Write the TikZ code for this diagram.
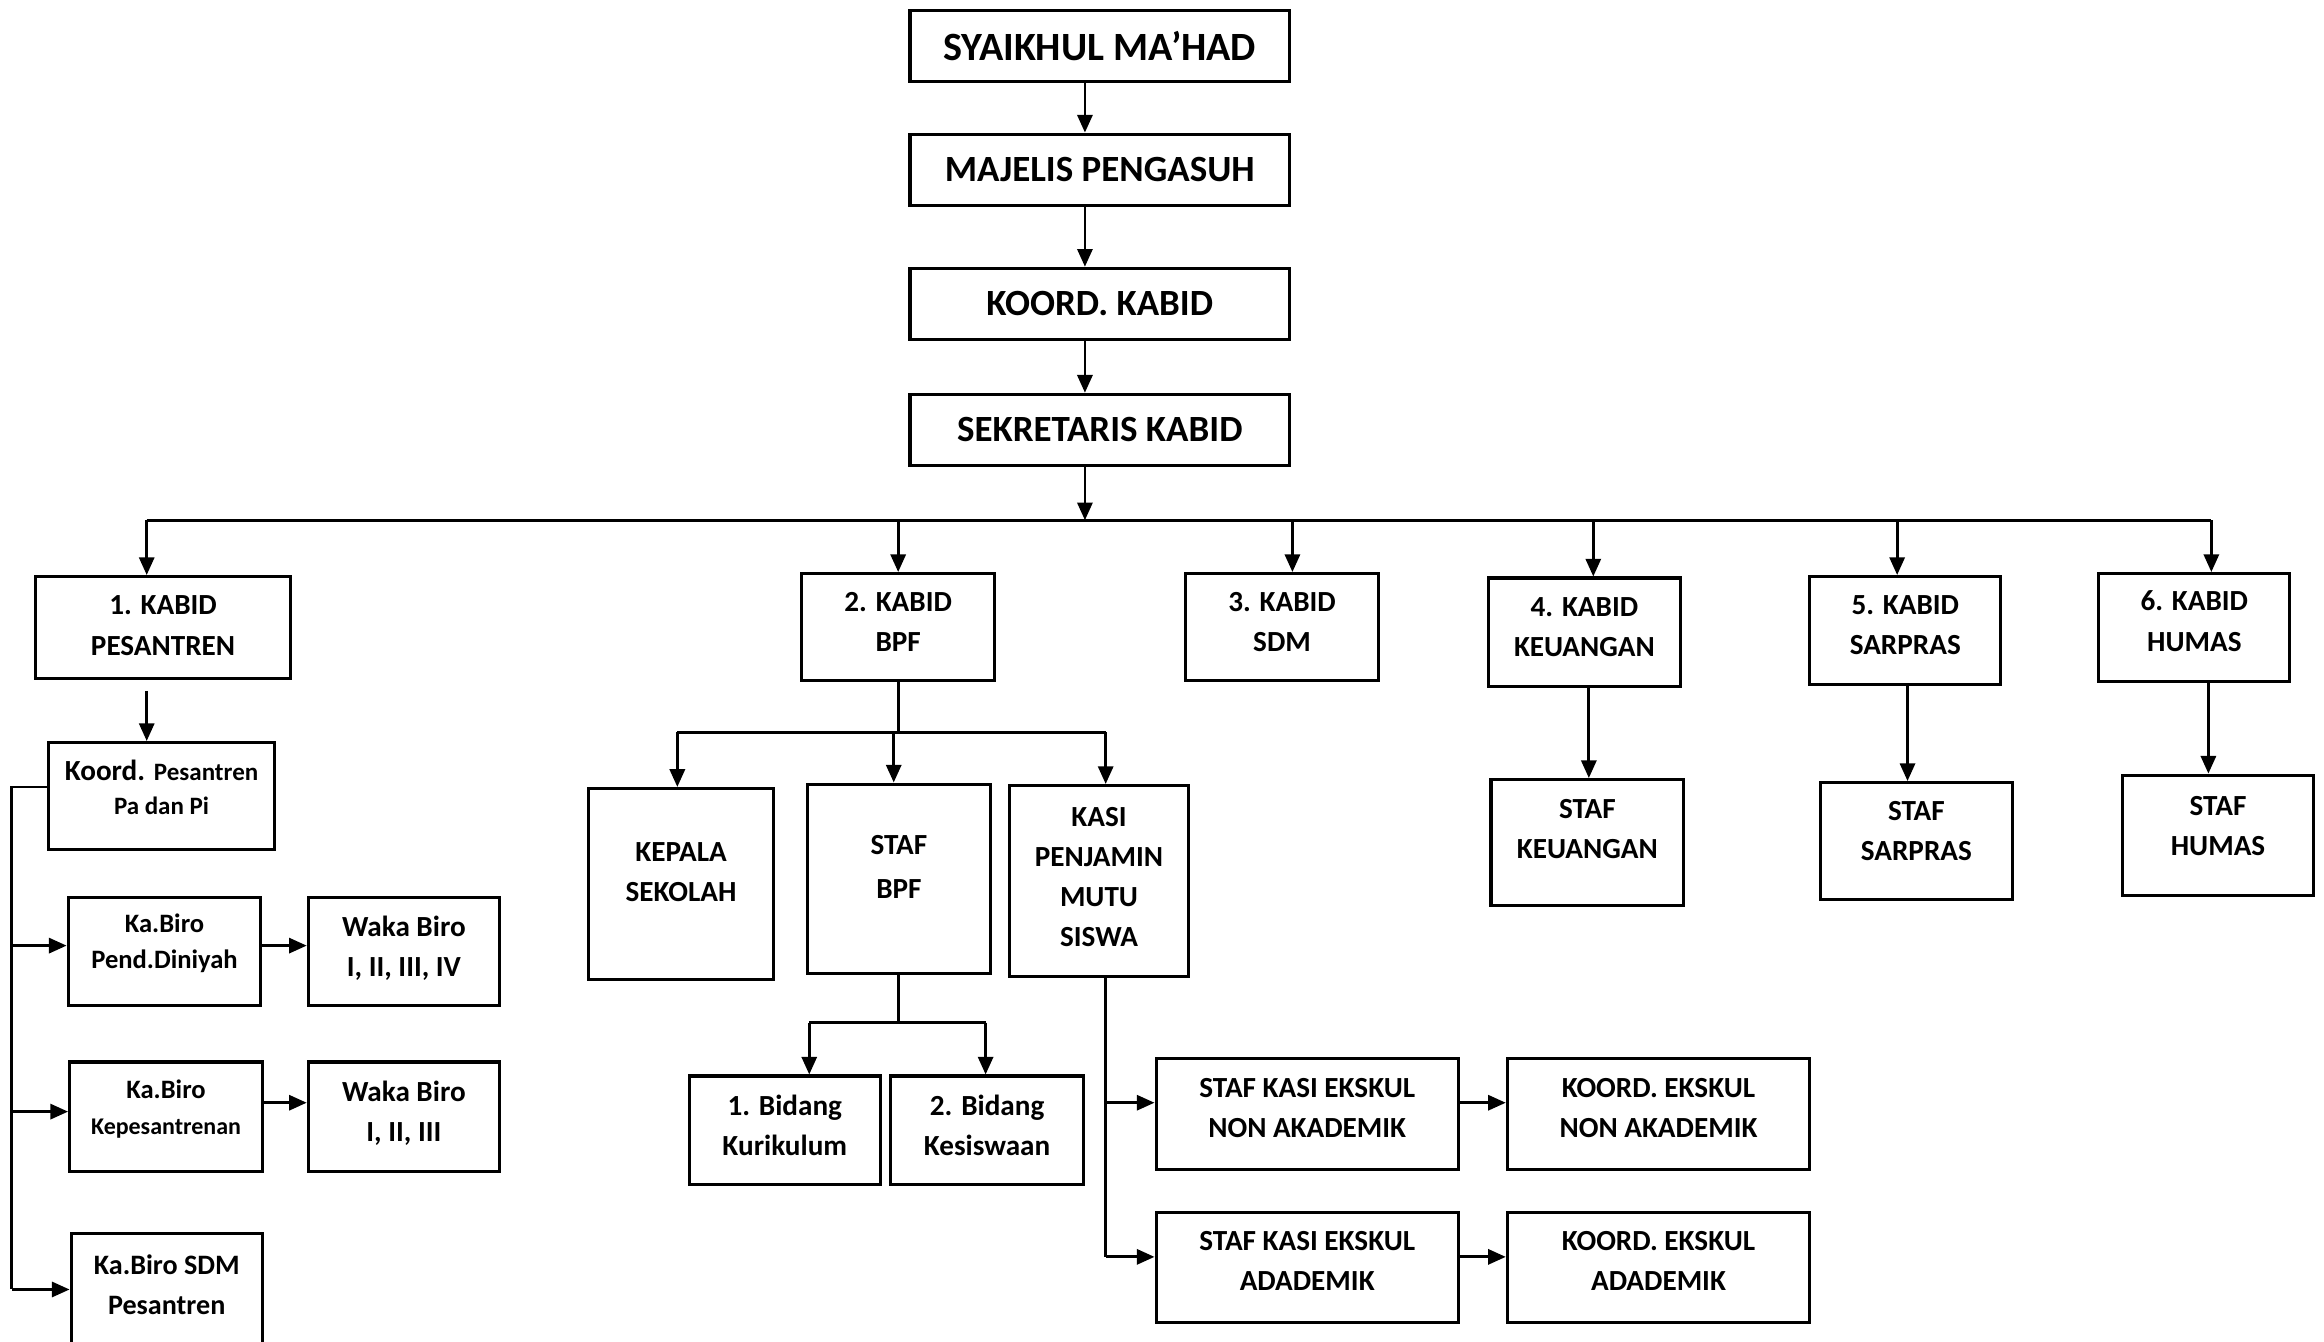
\documentclass[tikz,border=0pt]{standalone}
\usepackage{fontspec}
\setmainfont{Carlito}
\usetikzlibrary{arrows.meta}

\tikzset{
  lift/.style={text depth=#1*0.2mm},
  box/.style 2 args={draw, line width=0.6pt, minimum width=#1*0.1mm, minimum height=#2*0.1mm,
    inner sep=1pt, align=center, lift=3.5, font=\fontsize{5.6}{7.7}\selectfont\bfseries},
  headbox/.style={box={256}{48}, lift=0, font=\fontsize{7.1}{9}\selectfont\bfseries},
  link/.style={line width=0.55pt},
  arr/.style={link, -{Triangle[length=3.4pt,width=2.9pt]}}
}

\begin{document}
\begin{tikzpicture}[x=0.1mm, y=-0.1mm]
\useasboundingbox (0,0) rectangle (1568,905);

% Top chain
\node[headbox, font=\fontsize{7.7}{9}\selectfont\bfseries] (syaikhul) at (742,31) {SYAIKHUL MA’HAD};
\node[headbox] (majelis) at (742,114.5) {MAJELIS PENGASUH};
\node[headbox] (koordkabid) at (742,205) {KOORD. KABID};
\node[headbox] (sekretaris) at (742,290) {SEKRETARIS KABID};

\coordinate (spine) at (732,351);
\draw[arr] (syaikhul.south -| spine) -- (majelis.north -| spine);
\draw[arr] (majelis.south -| spine) -- (koordkabid.north -| spine);
\draw[arr] (koordkabid.south -| spine) -- (sekretaris.north -| spine);
\draw[arr] (sekretaris.south -| spine) -- (spine);

% Kabid row
\node[box={172}{69}, lift=1.5] (k1) at (110,423.5) {1. KABID\\PESANTREN};
\node[box={130}{72}] (k2) at (606,423) {2. KABID\\BPF};
\node[box={130}{72}] (k3) at (865,423) {3. KABID\\SDM};
\node[box={130}{73}] (k4) at (1069,426.5) {4. KABID\\KEUANGAN};
\node[box={129}{73}] (k5) at (1285.5,425.5) {5. KABID\\SARPRAS};
\node[box={129}{73}, lift=4.5] (k6) at (1480.5,423.5) {6. KABID\\HUMAS};

\draw[link] (99,351) -- (1492,351);
\foreach \n/\x in {k1/99, k2/606, k3/872, k4/1075, k5/1280, k6/1492}
  \draw[arr] (\x,351) -- (\x,0 |- \n.north);

% Staf boxes
\node[box={130}{85}, lift=9] (sk4) at (1071,568.5) {STAF\\KEUANGAN};
\node[box={130}{79}, lift=7] (sk5) at (1293,567.5) {STAF\\SARPRAS};
\node[box={129}{81}, lift=6.5] (sk6) at (1496.5,563.5) {STAF\\HUMAS};
\draw[arr] (1072,0 |- k4.south) -- (1072,0 |- sk4.north);
\draw[arr] (1287,0 |- k5.south) -- (1287,0 |- sk5.north);
\draw[arr] (1490,0 |- k6.south) -- (1490,0 |- sk6.north);

% Pesantren branch
\node[box={152}{72}, lift=6, font=\fontsize{5.6}{6.5}\selectfont\bfseries] (koordp) at (109,537)
  {Koord. {\fontsize{4.8}{6.5}\selectfont Pesantren}\\{\fontsize{4.8}{6.5}\selectfont Pa dan Pi}};
\node[box={130}{73}, lift=7, font=\fontsize{5.1}{6.8}\selectfont\bfseries] (kb1) at (111,642) {Ka.Biro\\Pend.Diniyah};
\node[box={129}{73}] (wb1) at (272.5,642) {Waka Biro\\I, II, III, IV};
\node[box={130}{74}, lift=6.6, font=\fontsize{5.1}{7}\selectfont\bfseries] (kb2) at (112,753.5)
  {Ka.Biro\\{\fontsize{4.6}{7}\selectfont Kepesantrenan}};
\node[box={129}{74}] (wb2) at (272.5,753.5) {Waka Biro\\I, II, III};
\node[box={129}{85}, lift=8, font=\fontsize{5.4}{7.7}\selectfont\bfseries] (kb3) at (112.5,874.5) {Ka.Biro SDM\\Pesantren};

\draw[arr, shorten <=2pt] (99,0 |- k1.south) -- (99,0 |- koordp.north);
\draw[link] ([yshift=0.6mm]koordp.west) -| (8,870);
\draw[arr] (8,638) -- (8,638 -| kb1.west);
\draw[arr] (8,750) -- (8,750 -| kb2.west);
\draw[arr] (8,870) -- (8,870 -| kb3.west);
\draw[arr] (kb1.east |- 0,638) -- (wb1.west |- 0,638);
\draw[arr] (kb2.east |- 0,744) -- (wb2.west |- 0,744);

% BPF branch
\node[box={125}{129}, lift=8] (kepala) at (459.5,596.5) {KEPALA\\SEKOLAH};
\node[box={123}{128}, lift=8, font=\fontsize{5.6}{8.4}\selectfont\bfseries] (stafbpf) at (606.5,593) {STAF\\BPF};
\node[box={121}{129}, lift=3] (kasi) at (741.5,594.5) {KASI\\PENJAMIN\\MUTU\\SISWA};

\draw[link] (k2.south) -- (k2.south |- 0,494);
\draw[link] (457,494) -- (746,494);
\foreach \n/\x in {kepala/457, stafbpf/603, kasi/746}
  \draw[arr] (\x,494) -- (\x,0 |- \n.north);

\node[box={129}{73}, lift=3] (bid1) at (529.5,762.5) {1. Bidang\\Kurikulum};
\node[box={130}{73}, lift=3] (bid2) at (666,762.5) {2. Bidang\\Kesiswaan};
\draw[link] (stafbpf.south) -- (stafbpf.south |- 0,690);
\draw[link] (546,690) -- (665,690);
\draw[arr] (546,690) -- (546,0 |- bid1.north);
\draw[arr] (665,690) -- (665,0 |- bid2.north);

\node[box={204}{75}, lift=4] (ekn) at (882,751.5) {STAF KASI EKSKUL\\NON AKADEMIK};
\node[box={204}{74}, lift=4] (eka) at (882,855) {STAF KASI EKSKUL\\ADADEMIK};
\node[box={204}{75}, lift=4] (koordn) at (1119,751.5) {KOORD. EKSKUL\\NON AKADEMIK};
\node[box={204}{74}, lift=4] (koorda) at (1119,855) {KOORD. EKSKUL\\ADADEMIK};

\draw[link] (746,0 |- kasi.south) -- (746,848);
\draw[arr] (746,744) -- (746,744 -| ekn.west);
\draw[arr] (746,848) -- (746,848 -| eka.west);
\draw[arr] (ekn.east |- 0,744) -- (koordn.west |- 0,744);
\draw[arr] (eka.east |- 0,848) -- (koorda.west |- 0,848);
\end{tikzpicture}
\end{document}
